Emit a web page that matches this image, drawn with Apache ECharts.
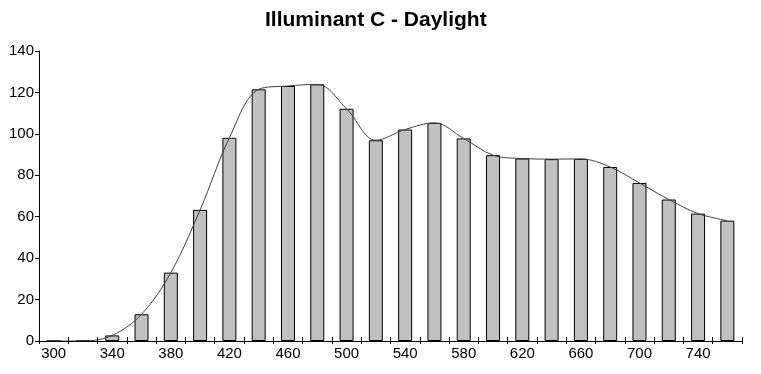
<!DOCTYPE html>
<html><head><meta charset="utf-8">
<script src="https://cdn.jsdelivr.net/npm/echarts@6/dist/echarts.min.js"></script>
<style>html,body{margin:0;padding:0;background:#fff}#c{width:761px;height:374px}</style>
</head><body><div id="c"></div>
<script>
const title = 'Illuminant C - Daylight';
const categories = ['300','320','340','360','380','400','420','440','460','480','500','520','540','560','580','600','620','640','660','680','700','720','740','760'];
const barValues = [0, 0.01, 2.7, 12.9, 33.0, 63.3, 98.1, 121.5, 123.1, 123.9, 112.1, 96.9, 102.1, 105.3, 97.8, 89.7, 88.1, 87.8, 87.9, 84.0, 76.3, 68.3, 61.5, 58.1];
const yTicks = {min: 0, max: 140, interval: 20};

const chart = echarts.init(document.getElementById('c'), null, {renderer: 'canvas'});
const font = 'Liberation Sans, Arial, sans-serif';
chart.setOption({
  animation: false,
  backgroundColor: '#fff',
  title: {text: title, left: 260, top: 5,
    textStyle: {fontFamily: font, fontSize: 21, fontWeight: 'bold', color: '#000'}},
  grid: {left: 39, right: 19, top: 51, bottom: 33},
  xAxis: [
    {type: 'category', data: categories, boundaryGap: true, position: 'bottom',
     axisLine: {lineStyle: {color: '#000', width: 1}},
     axisTick: {show: true, inside: false, length: 3, interval: 0, lineStyle: {color: '#000'}},
     axisLabel: {interval: 1, margin: 5, fontFamily: font, fontSize: 15, color: '#000'},
     splitLine: {show: false}},
    {type: 'category', data: categories, boundaryGap: true, position: 'bottom',
     axisLine: {show: false},
     axisTick: {show: true, inside: true, length: 4, interval: 0, lineStyle: {color: '#000'}},
     axisLabel: {show: false}, splitLine: {show: false}}
  ],
  yAxis: {type: 'value', min: yTicks.min, max: yTicks.max, interval: yTicks.interval,
    axisLine: {show: true, lineStyle: {color: '#000', width: 1}},
    axisTick: {show: true, inside: false, length: 4, lineStyle: {color: '#000'}},
    axisLabel: {margin: 5, fontFamily: font, fontSize: 15, color: '#000'},
    splitLine: {show: false}},
  series: [
    {type: 'bar', xAxisIndex: 0, data: barValues, barWidth: 14,
     itemStyle: {color: '#c0c0c0', borderColor: '#000', borderWidth: 1}, z: 2},
    {type: 'line', xAxisIndex: 0, data: barValues,
     smooth: 0.35, symbol: 'none', lineStyle: {color: '#404040', width: 1}, z: 3}
  ]
});
</script></body></html>
